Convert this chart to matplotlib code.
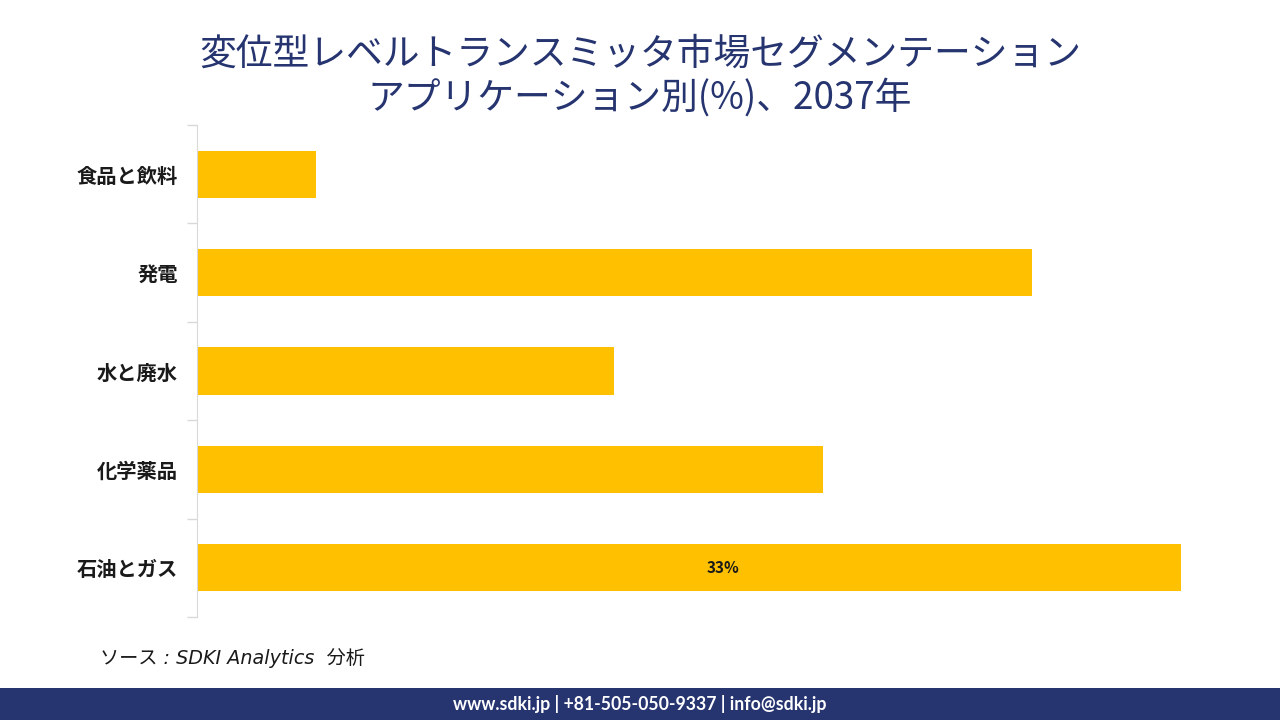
import matplotlib.pyplot as plt
from matplotlib.patches import Rectangle

plt.rcParams['font.family'] = ['Noto Sans CJK JP', 'DejaVu Sans']

# data (top to bottom as shown)
categories = ['食品と飲料', '発電', '水と廃水', '化学薬品', '石油とガス']
shares = [4, 28, 14, 21, 33]
label_text = '33%'

navy = '#263470'
bar_color = '#FFC000'

fig = plt.figure(figsize=(12.8, 7.2), dpi=100)
ax = fig.add_axes([0.1539, 0.1431, 0.822, 0.6833])

ypos = list(range(len(categories)))[::-1]
ax.barh(ypos, shares, height=0.48, color=bar_color)

ax.set_xlim(0, 35.3)
ax.set_ylim(-0.5, len(categories) - 0.5)
ax.set_yticks(ypos)
ax.set_yticklabels(categories, fontsize=14.6, fontweight='bold', color='#1a1a1a')
ax.set_yticks([i - 0.5 for i in range(len(categories) + 1)], minor=True)
ax.tick_params(axis='y', which='major', length=0, pad=14)
ax.tick_params(axis='y', which='minor', length=7, color='#D9D9D9', width=1)
ax.set_xticks([])
for s in ['top', 'right', 'bottom']:
    ax.spines[s].set_visible(False)
ax.spines['left'].set_color('#D9D9D9')

# value label on the largest bar
ax.text(0.5, ypos[-1], label_text, transform=ax.get_yaxis_transform(),
        ha='center', va='center', fontsize=11, fontweight='bold', color='#1a1a1a')

# title
fig.text(0.5, 0.924, '変位型レベルトランスミッタ市場セグメンテーション',
         ha='center', va='center', fontsize=26.5, color=navy)
fig.text(0.5, 0.864, 'アプリケーション別(%)、2037年',
         ha='center', va='center', fontsize=26.5, color=navy)

# source
fig.text(0.078, 0.086, 'ソース : SDKI Analytics  分析', ha='left', va='center',
         fontsize=13.8, style='italic', family=['DejaVu Sans', 'Noto Sans CJK JP'],
         color='#1a1a1a')

# footer band
fig.patches.append(Rectangle((0, 0), 1, 32 / 720, transform=fig.transFigure,
                             facecolor=navy, edgecolor='none'))
fig.text(0.5, 16 / 720, 'www.sdki.jp | +81-505-050-9337 | info@sdki.jp',
         ha='center', va='center', fontsize=12.7, fontweight='bold', color='white',
         family=['Lato', 'DejaVu Sans'])

plt.savefig('out.png', dpi=100)
